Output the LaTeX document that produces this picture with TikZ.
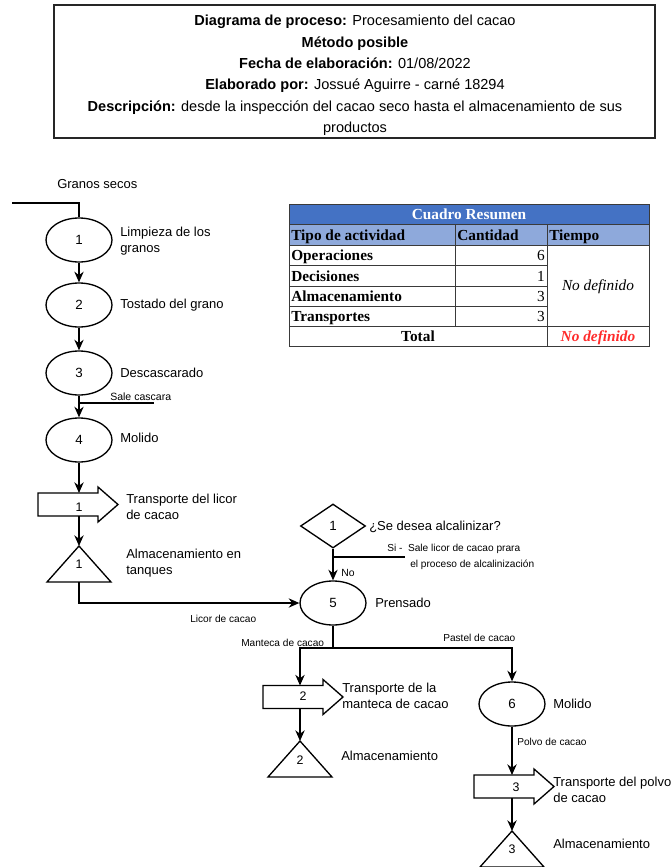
\documentclass[tikz,border=0pt]{standalone}
\usepackage{fontspec}
\setmainfont{Liberation Sans}
\newfontfamily\tabfont{Liberation Serif}
\usetikzlibrary{shapes.geometric,arrows.meta}
\definecolor{hdrblue}{HTML}{4472C4}
\definecolor{subblue}{HTML}{8EA9DB}
\definecolor{rojo}{HTML}{FF2B2B}
\definecolor{grid}{HTML}{3A3A3A}

% transport symbol: #1 left edge, #2 centre line (y grows downwards)
\newcommand{\transportpath}[2]{%
  \draw[shp] (#1,#2-11.5) -- (#1+60,#2-11.5) -- (#1+60,#2-17.5) -- (#1+80,#2)
    -- (#1+60,#2+17.5) -- (#1+60,#2+11.5) -- (#1,#2+11.5) -- cycle;}
% storage symbol: #1 apex x, #2 apex y
\newcommand{\storagepath}[2]{%
  \draw[shp] (#1,#2) -- (#1+32,#2+36) -- (#1-32,#2+36) -- cycle;}

\begin{document}
\begin{tikzpicture}[x=0.75pt,y=-0.75pt,
  flow/.style={line width=1pt},
  arr/.style={flow,-{Stealth[length=8pt,width=7pt]}},
  op/.style={draw,line width=1pt,ellipse,minimum width=49.5pt,minimum height=33pt,
    inner sep=0pt,font=\fontsize{10}{11}\selectfont},
  dec/.style={draw,line width=1pt,diamond,minimum width=48.75pt,minimum height=33pt,
    inner sep=0pt,font=\fontsize{10}{11}\selectfont},
  shp/.style={draw,line width=1pt,line join=miter},
  num/.style={inner sep=0pt,font=\fontsize{9.3}{10}\selectfont},
  lbl/.style={anchor=west,align=left,inner sep=0pt,font=\fontsize{9.75}{12}\selectfont},
  small/.style={anchor=west,inner sep=0pt,font=\fontsize{7.6}{8}\selectfont},
  tline/.style={draw=grid,line width=0.6pt},
  tfont/.style={font=\tabfont\fontsize{11.5}{12}\selectfont},
  tcell/.style={inner sep=0pt,text height=8pt,text depth=2.2pt,
    font=\tabfont\fontsize{11.5}{12}\selectfont\bfseries}
]
\useasboundingbox (0,0) rectangle (671,867);

% ---------- header box ----------
\draw[line width=1.2pt,draw=black!85] (54,5) rectangle (655,138);
\node[align=center,inner sep=0pt,font=\fontsize{10.9}{16.1}\selectfont] (title) at (355,75.5)
  {\textbf{Diagrama de proceso:} Procesamiento del cacao\\
   \textbf{Método posible}\\
   \textbf{Fecha de elaboración:} 01/08/2022\\
   \textbf{Elaborado por:} Jossué Aguirre - carné 18294\\
   \textbf{Descripción:} desde la inspección del cacao seco hasta el almacenamiento de sus\\
   productos};

% ---------- summary table ----------
\fill[hdrblue] (289,204) rectangle (649,224);
\fill[subblue] (289,224) rectangle (649,245);
\draw[tline] (289,204) rectangle (649,346);
\draw[tline] (289,224) -- (649,224);
\draw[tline] (289,245) -- (649,245);
\draw[tline] (289,265) -- (547,265);
\draw[tline] (289,286) -- (547,286);
\draw[tline] (289,306) -- (547,306);
\draw[tline] (289,326) -- (649,326);
\draw[tline] (455,224) -- (455,326);
\draw[tline] (547,224) -- (547,346);
\node[tcell,text=white] (tt) at (469,215.5) {Cuadro Resumen};
\node[tcell,anchor=west] (h1) at (291,236.5) {Tipo de actividad};
\node[tcell,anchor=west] (h2) at (457,236.5) {Cantidad};
\node[tcell,anchor=west] (h3) at (549,236.5) {Tiempo};
\node[tcell,anchor=west] (r1) at (291,257) {Operaciones};
\node[tcell,anchor=west] (r2) at (291,277.5) {Decisiones};
\node[tcell,anchor=west] (r3) at (291,298) {Almacenamiento};
\node[tcell,anchor=west] (r4) at (291,318) {Transportes};
\node[tcell,tfont,anchor=east] (c1) at (545,257) {6};
\node[tcell,tfont,anchor=east] (c2) at (545,277.5) {1};
\node[tcell,tfont,anchor=east] (c3) at (545,298) {3};
\node[tcell,tfont,anchor=east] (c4) at (545,318) {3};
\node[tcell,font=\tabfont\fontsize{11.5}{12}\selectfont\itshape] (tiempo) at (598,287) {No definido};
\node[tcell] (total) at (418,337.5) {Total};
\node[tcell,text=rojo,font=\tabfont\fontsize{11.5}{12}\selectfont\bfseries\itshape] (ttot) at (598,337.5) {No definido};

% ---------- main line ----------
\node[lbl] (gs) at (57,184) {Granos secos};
\coordinate (in0) at (12,203);

\node[op] (e1) at (79,240) {1};
\node[lbl] (l1) at (120,241) {Limpieza de los\\granos};
\node[op] (e2) at (79,305) {2};
\node[lbl] (l2) at (120,305) {Tostado del grano};
\node[op] (e3) at (79,373) {3};
\node[lbl] (l3) at (120,373) {Descascarado};
\node[op] (e4) at (79,440) {4};
\node[lbl] (l4) at (120,438) {Molido};
\coordinate (cascara) at (154,403);
\node[small,font=\fontsize{7.9}{8}\selectfont] (lc) at (110,397) {Sale cascara};

\transportpath{38}{504.5}
\node[num] (t1) at (79,507) {1};
\coordinate (t1in) at (79,493);
\coordinate (t1out) at (79,516);
\node[lbl] (lt1) at (126,507) {Transporte del licor\\de cacao};

\storagepath{79}{546}
\coordinate (a1) at (79,546);
\coordinate (a1out) at (79,582);
\node[num] (s1) at (79,564) {1};
\node[lbl] (ls1) at (126,563.5) {Almacenamiento en\\tanques};

% ---------- decision and pressing ----------
\node[dec] (d1) at (333,526) {1};
\node[lbl] (ld1) at (369,527) {¿Se desea alcalinizar?};
\coordinate (alca) at (405,557);
\node[small] (si1) at (387,549) {Si -\ \ Sale licor de cacao prara};
\node[small] (si2) at (410,565) {el proceso de alcalinización};
\node[small,font=\fontsize{7.8}{8}\selectfont] (no) at (341,573) {No};

\node[op] (e5) at (333,603) {5};
\node[lbl] (l5) at (375,603) {Prensado};
\node[small] (licor) at (190,619) {Licor de cacao};

\coordinate (split) at (333,648);
\node[small] (mant) at (241,643) {Manteca de cacao};
\node[small] (past) at (443,638) {Pastel de cacao};

% ---------- butter branch ----------
\transportpath{263}{697}
\node[num] (t2) at (303,696) {2};
\coordinate (t2in) at (300,685.5);
\coordinate (t2out) at (300,708.5);
\node[lbl] (lt2) at (342,696) {Transporte de la\\manteca de cacao};

\storagepath{300}{741}
\coordinate (a2) at (300,741);
\node[num] (s2) at (300,760) {2};
\node[lbl] (ls2) at (341,756) {Almacenamiento};

% ---------- cake branch ----------
\node[op] (e6) at (512,704) {6};
\node[lbl] (l6) at (553,704) {Molido};
\node[small] (polvo) at (517,742) {Polvo de cacao};

\transportpath{474}{786.5}
\node[num] (t3) at (516,787) {3};
\coordinate (t3in) at (512,775);
\coordinate (t3out) at (512,798);
\node[lbl] (lt3) at (553,790) {Transporte del polvo\\de cacao};

\storagepath{512}{831}
\coordinate (a3) at (512,831);
\node[num] (s3) at (512,849) {3};
\node[lbl] (ls3) at (553,844) {Almacenamiento};

% ---------- connectors ----------
\draw[flow] (in0) -| (e1.north);
\draw[arr] (e1) -- (e2);
\draw[arr] (e2) -- (e3);
\draw[arr] (e3) -- (e4);
\draw[flow] (e3.south |- cascara) -- (cascara);
\draw[arr] (e4) -- (t1in);
\draw[arr] (t1out) -- (a1);
\draw[arr] (a1out) |- (e5.west);
\draw[arr] (d1) -- (e5);
\draw[flow] (d1.south |- alca) -- (alca);
\draw[flow] (e5.south) -- (split);
\draw[arr] (split) -| (t2in);
\draw[arr] (split) -| (e6.north);
\draw[arr] (t2out) -- (a2);
\draw[arr] (e6) -- (t3in);
\draw[arr] (t3out) -- (a3);
\end{tikzpicture}
\end{document}
